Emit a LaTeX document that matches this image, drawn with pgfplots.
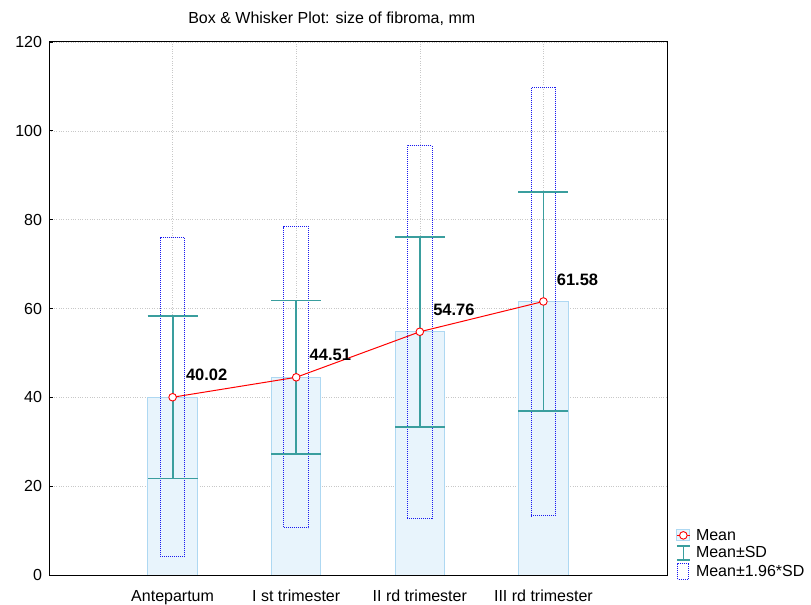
\documentclass[border=0pt]{standalone}
\usepackage{fontspec}
\setmainfont{Liberation Sans}
\usepackage{pgfplots}
\pgfplotsset{compat=1.18}
\definecolor{barfill}{HTML}{E8F4FC}
\definecolor{barline}{HTML}{AED8F2}
\definecolor{sdteal}{HTML}{3A9E9E}
\definecolor{boxblue}{HTML}{1A1AF0}
\definecolor{gridgray}{HTML}{C8C8C8}
\begin{document}
\begin{tikzpicture}
\begin{axis}[name=ax, scale only axis, width=618bp, height=533bp,
  xmin=0, xmax=5, ymin=0, ymax=120,
  xtick={1,2,3,4},
  xticklabels={Antepartum, I st trimester, II rd trimester, III rd trimester},
  ytick={0,20,...,120},
  grid=major, major grid style={gridgray, dotted, line width=0.6bp},
  axis line style={black, line width=1bp},
  tick align=inside, xtick pos=bottom, ytick pos=left,
  major tick length=4bp, tick style={black, line width=0.8bp},
  /pgf/number format/assume math mode=true,
  tick label style={font=\fontsize{16bp}{19bp}\selectfont},
  xticklabel style={anchor=base, yshift=-26bp},
  yticklabel style={xshift=-3.5bp},
  title={Box \& Whisker Plot: size of fibroma, mm},
  title style={at={(0.4575,1)}, anchor=base, yshift=13bp, font=\fontsize{16bp}{19bp}\selectfont},
  legend style={at={(1,0)}, anchor=south west, xshift=9bp, yshift=-5bp, draw=none, fill=none,
    font=\fontsize{16bp}{19bp}\selectfont, inner sep=0pt, row sep=2bp, column sep=4bp,
    nodes={inner sep=1.5bp}},
  legend cell align=left,
]
% mean bars
\addplot[ybar, bar width=0.4, fill=barfill, draw=barline, line width=1bp, forget plot]
  coordinates {(1,40.02) (2,44.51) (3,54.76) (4,61.58)};
% Mean +- 1.96 SD boxes
\addplot[boxblue, line width=1bp, dash pattern=on 1bp off 1bp, forget plot]
  coordinates {(0.9,4.15) (1.1,4.15) (1.1,75.89) (0.9,75.89)} -- cycle;
\addplot[boxblue, line width=1bp, dash pattern=on 1bp off 1bp, forget plot]
  coordinates {(1.9,10.60) (2.1,10.60) (2.1,78.42) (1.9,78.42)} -- cycle;
\addplot[boxblue, line width=1bp, dash pattern=on 1bp off 1bp, forget plot]
  coordinates {(2.9,12.82) (3.1,12.82) (3.1,96.70) (2.9,96.70)} -- cycle;
\addplot[boxblue, line width=1bp, dash pattern=on 1bp off 1bp, forget plot]
  coordinates {(3.9,13.36) (4.1,13.36) (4.1,109.80) (3.9,109.80)} -- cycle;
% Mean +- SD whiskers
\addplot[draw=none, mark=none, forget plot,
  error bars/.cd, y dir=both, y explicit, error mark=|,
  error bar style={sdteal, line width=1.8bp},
  error mark options={sdteal, mark size=25bp, line width=1.6bp}]
  coordinates {(1,40.02) +- (0,18.3) (2,44.51) +- (0,17.3) (3,54.76) +- (0,21.4) (4,61.58) +- (0,24.6)};
% mean line
\addplot[red, line width=1bp, mark=*, mark size=3.8bp, mark options={fill=white, draw=red, line width=0.9bp},
  point meta=explicit symbolic, nodes near coords, forget plot,
  every node near coord/.append style={anchor=west, inner sep=0pt, xshift=13bp, yshift=22bp, black,
    font=\fontsize{16.5bp}{20bp}\selectfont\bfseries}]
  coordinates {(1,40.02)[40.02] (2,44.51)[44.51] (3,54.76)[54.76] (4,61.58)[61.58]};
% legend
\addlegendimage{legend image code/.code={
  \draw[barline, fill=barfill, line width=0.8bp] (0bp,-5.5bp) rectangle (13bp,5.5bp);
  \draw[red, line width=1bp] (0bp,0bp) -- (13bp,0bp);
  \draw[red, fill=white, line width=0.9bp] (6.5bp,0bp) circle (3.8bp);}}
\addlegendentry{Mean}
\addlegendimage{legend image code/.code={
  \draw[sdteal, line width=1.3bp] (0bp,-7bp) -- (13bp,-7bp) (6.5bp,-7bp) -- (6.5bp,7bp) (0bp,7bp) -- (13bp,7bp);}}
\addlegendentry{Mean±SD}
\addlegendimage{legend image code/.code={
  \draw[boxblue, line width=1bp, dash pattern=on 1bp off 1bp] (1bp,-8bp) rectangle (12bp,8bp);}}
\addlegendentry{Mean±1.96*SD}
\end{axis}
\pgfresetboundingbox
\path[use as bounding box] ([xshift=-49bp,yshift=42bp]ax.north west) rectangle ([xshift=144bp,yshift=-30bp]ax.south east);
\end{tikzpicture}
\end{document}
